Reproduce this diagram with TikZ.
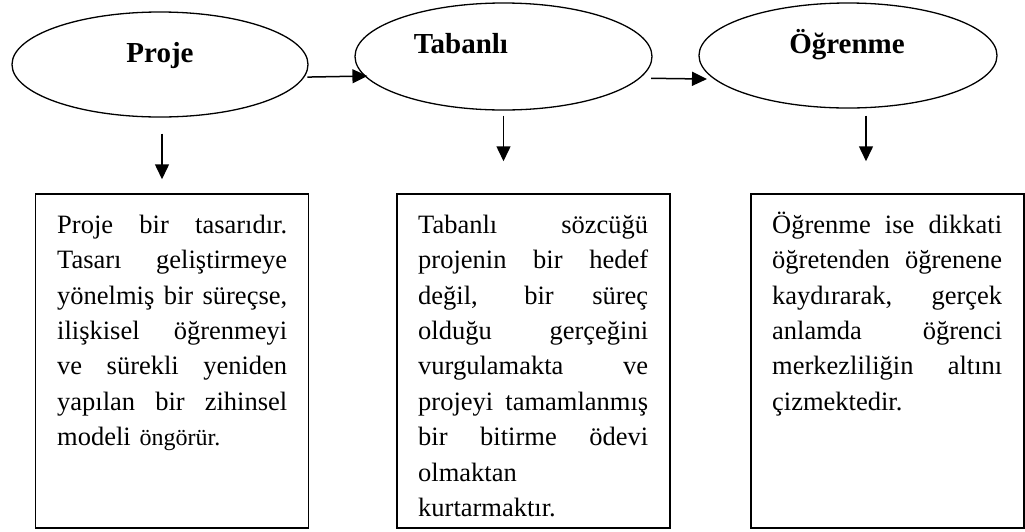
\documentclass[tikz,border=0pt]{standalone}
\usepackage{fontspec}
\setmainfont{Liberation Serif}
\usetikzlibrary{arrows.meta,shapes.geometric}
\newcommand{\jline}[1]{\leavevmode\hbox to 230pt{\spaceskip=\fontdimen2\font plus 1fil\relax#1}}
\begin{document}
\begin{tikzpicture}[x=1pt, y=-1pt,
    oval/.style={draw, ellipse, line width=1.3pt, inner sep=0pt},
    info/.style={draw, rectangle, line width=1.5pt, inner sep=0pt, minimum width=273pt, minimum height=334pt},
    head/.style={inner sep=0pt, anchor=base, font=\fontsize{29}{34}\selectfont\bfseries},
    body/.style={inner sep=0pt, anchor=north west, text width=231pt, align=left, font=\fontsize{26.5}{35.4}\selectfont},
    arr/.style={-{Triangle[length=15pt,width=14pt]}, line width=1.5pt}]
        \useasboundingbox (0,0) rectangle (1025,531);
        \node[oval, minimum width=296pt, minimum height=105pt] at(160, 64.5) (e1) {};
        \node[oval, minimum width=297pt, minimum height=107pt] at(503.5, 56.5) (e2) {};
        \node[oval, minimum width=298pt, minimum height=105pt] at(848, 55.5) (e3) {};
        \node[head] at(160, 62) (h1) {Proje};
        \node[head] at(461, 53) (h2) {Tabanlı};
        \node[head] at(847, 53) (h3) {Öğrenme};
        \node[info] at(172, 361) (b1) {};
        \node[info] at(533.5, 361) (b2) {};
        \node[info] at(887.5, 361) (b3) {};
        \node[body] at(57, 208) (p1) {\rule{0pt}{25pt}\jline{Proje bir tasarıdır.}\\
            \jline{Tasarı geliştirmeye}\\
            \jline{yönelmiş bir süreçse,}\\
            \jline{ilişkisel öğrenmeyi}\\
            \jline{ve sürekli yeniden}\\
            \jline{yapılan bir zihinsel}\\
            modeli {\fontsize{24}{35.4}\selectfont öngörür.}};
        \node[body] at(418, 208) (p2) {\rule{0pt}{25pt}\jline{Tabanlı sözcüğü}\\
            \jline{projenin bir hedef}\\
            \jline{değil, bir süreç}\\
            \jline{olduğu gerçeğini}\\
            \jline{vurgulamakta ve}\\
            \jline{projeyi tamamlanmış}\\
            \jline{bir bitirme ödevi}\\
            olmaktan\\
            kurtarmaktır.};
        \node[body] at(772, 208) (p3) {\rule{0pt}{25pt}\jline{Öğrenme ise dikkati}\\
            \jline{öğretenden öğrenene}\\
            \jline{kaydırarak, gerçek}\\
            \jline{anlamda öğrenci}\\
            \jline{merkezliliğin altını}\\
            çizmektedir.};
        \draw[arr, shorten <=3pt, shorten >=-3pt] (e1.-5)  -- (e2.188);
        \draw[arr, shorten <=11pt, shorten >=7pt] (e2.-9)  -- (e3.190);
        \draw[arr, shorten <=16pt, shorten >=14pt] ([xshift=2pt]e1.south)  -- ([xshift=2pt]e1.south |- b1.north);
        \draw[arr, shorten <=5pt, shorten >=32pt] (e2.south)  -- (e2.south |- b2.north);
        \draw[arr, shorten <=7pt, shorten >=32pt] ([xshift=18pt]e3.south)  -- ([xshift=18pt]e3.south |- b3.north);
    \end{tikzpicture}
\end{document}
